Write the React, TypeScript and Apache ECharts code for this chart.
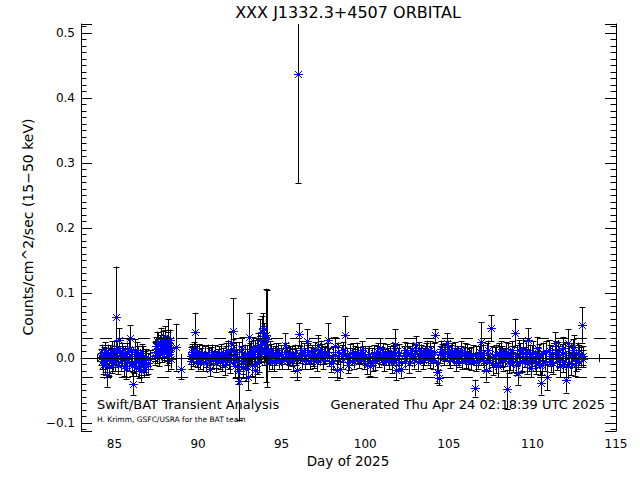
import React, { useEffect, useRef } from 'react';
import * as echarts from 'echarts';

const TITLE = 'XXX J1332.3+4507 ORBITAL';
const X_NAME = 'Day of 2025';
const Y_NAME = 'Counts/cm^2/sec (15\u221250 keV)';
const NOTE_LEFT = 'Swift/BAT Transient Analysis';
const NOTE_RIGHT = 'Generated Thu Apr 24 02:18:39 UTC 2025';
const NOTE_CREDIT = 'H. Krimm, GSFC/USRA for the BAT team';

const X_MIN = 83;
const X_MAX = 115;
const Y_MIN = -0.112;
const Y_MAX = 0.514;

const ZERO_LEVEL = 0;
const UPPER_LEVEL = 0.028;
const LOWER_LEVEL = -0.025;

const DAYS = [
  84.20, 84.28, 84.35, 84.42, 84.50, 84.54, 84.62, 84.70, 84.78, 84.85, 84.92, 85.00,
  85.09, 85.15, 85.22, 85.30, 85.36, 85.42, 85.50, 85.56, 85.62, 85.70, 85.78, 85.85,
  85.93, 86.00, 86.10, 86.16, 86.22, 86.30, 86.38, 86.45, 86.52, 86.60, 86.68, 86.75,
  86.82, 86.90, 87.00, 87.15, 87.40, 87.48, 87.55, 87.62, 87.70, 87.78, 87.85, 87.92,
  88.00, 88.06, 88.12, 88.18, 88.25, 88.32, 88.40, 88.70, 88.97, 89.55, 89.62, 89.70,
  89.80, 89.88, 89.95, 90.05, 90.12, 90.20, 90.30, 90.40, 90.50, 90.60, 90.70, 90.80,
  90.90, 91.00, 91.10, 91.20, 91.30, 91.40, 91.50, 91.60, 91.70, 91.80, 91.90, 92.00,
  92.07, 92.15, 92.22, 92.30, 92.38, 92.46, 92.55, 92.62, 92.70, 92.78, 92.85, 93.00,
  93.05, 93.12, 93.20, 93.28, 93.35, 93.42, 93.50, 93.58, 93.65, 93.72, 93.80, 93.88,
  93.95, 94.05, 94.10, 94.15, 94.25, 94.35, 94.45, 94.55, 94.65, 94.75, 94.85, 94.95,
  95.05, 95.20, 95.30, 95.40, 95.50, 95.60, 95.70, 95.80, 95.90, 96.00, 96.05, 96.12,
  96.22, 96.32, 96.42, 96.50, 96.60, 96.70, 96.80, 96.90, 97.00, 97.10, 97.20, 97.30,
  97.40, 97.50, 97.60, 97.76, 97.85, 97.95, 98.05, 98.20, 98.30, 98.40, 98.50, 98.60,
  98.70, 98.78, 98.90, 99.00, 99.10, 99.20, 99.30, 99.40, 99.50, 99.60, 99.70, 99.80,
  99.90, 100.00, 100.10, 100.20, 100.30, 100.40, 100.50, 100.60, 100.70, 100.80, 100.90, 101.00,
  101.10, 101.20, 101.30, 101.40, 101.50, 101.60, 101.70, 101.77, 101.85, 101.95, 102.05, 102.17,
  102.30, 102.40, 102.50, 102.60, 102.70, 102.80, 102.90, 103.06, 103.15, 103.25, 103.35, 103.45,
  103.55, 103.65, 103.75, 103.85, 103.95, 104.05, 104.16, 104.30, 104.40, 104.50, 104.60, 104.70,
  104.80, 104.90, 105.00, 105.10, 105.20, 105.30, 105.40, 105.50, 105.60, 105.70, 105.80, 105.90,
  106.00, 106.10, 106.20, 106.30, 106.45, 106.55, 106.65, 106.75, 106.85, 106.95, 107.05, 107.20,
  107.30, 107.40, 107.55, 107.65, 107.75, 107.85, 107.95, 108.05, 108.15, 108.25, 108.35, 108.46,
  108.55, 108.65, 108.75, 108.85, 108.94, 109.05, 109.12, 109.25, 109.35, 109.45, 109.55, 109.65,
  109.74, 109.85, 109.92, 110.05, 110.15, 110.25, 110.35, 110.45, 110.54, 110.65, 110.75, 110.90,
  111.00, 111.10, 111.20, 111.33, 111.45, 111.55, 111.65, 111.75, 111.85, 112.00, 112.10, 112.20,
  112.30, 112.40, 112.50, 112.62, 112.70, 112.80, 112.96, 113.00,
];

const RATES = [
  0.002, -0.004, 0.006, -0.008, 0.003, -0.026, 0.008, -0.003, 0.001, 0.010, -0.006, 0.004,
  0.064, 0.012, -0.010, 0.028, 0.005, -0.004, 0.007, -0.012, 0.002, -0.015, 0.009, -0.006,
  0.031, 0.003, -0.039, -0.008, 0.012, -0.005, 0.006, -0.016, 0.001, -0.012, 0.004, -0.016,
  -0.003, 0.002, -0.008, -0.002, 0.010, 0.018, 0.005, 0.024, 0.012, 0.030, 0.008, 0.021,
  0.026, 0.015, 0.004, 0.020, 0.010, 0.028, -0.002, 0.017, -0.016, 0.004, 0.010, 0.002,
  0.040, 0.006, -0.002, 0.008, -0.004, 0.003, -0.006, 0.005, -0.002, 0.007, -0.016, 0.004,
  -0.003, 0.006, -0.008, 0.002, -0.004, 0.008, 0.001, -0.010, 0.005, 0.012, -0.006, 0.023,
  0.042, 0.004, -0.012, 0.010, -0.020, -0.035, 0.002, 0.014, -0.008, 0.006, -0.016, -0.029,
  0.032, 0.008, -0.010, 0.015, 0.003, -0.018, 0.012, 0.020, -0.005, 0.030, 0.040, 0.047,
  0.010, 0.035, 0.030, 0.012, -0.004, 0.008, 0.002, -0.006, 0.010, 0.004, -0.002, 0.007,
  0.003, 0.020, 0.004, -0.003, 0.006, 0.001, -0.005, 0.008, -0.018, 0.437, 0.037, 0.005,
  -0.002, 0.010, 0.003, 0.027, 0.006, -0.004, 0.008, 0.002, 0.012, -0.006, 0.020, 0.004,
  0.010, -0.003, 0.006, 0.028, 0.002, -0.008, 0.005, 0.018, -0.018, 0.004, -0.016, 0.007,
  -0.002, 0.035, 0.003, -0.006, 0.008, 0.002, -0.004, 0.006, 0.010, -0.003, 0.004, 0.012,
  -0.005, 0.003, -0.010, 0.006, -0.012, 0.002, 0.008, -0.004, 0.005, -0.002, 0.015, 0.004,
  -0.006, 0.002, 0.009, -0.003, 0.006, -0.008, 0.004, 0.021, -0.018, 0.003, 0.008, -0.016,
  0.005, -0.004, 0.010, -0.008, 0.003, 0.012, -0.002, 0.020, -0.006, 0.004, 0.008, -0.003,
  0.006, 0.010, 0.002, 0.012, 0.005, -0.004, 0.035, -0.022, -0.030, 0.006, 0.010, 0.003,
  0.008, 0.023, 0.004, -0.003, 0.010, 0.002, -0.006, 0.007, 0.000, 0.012, -0.004, 0.005,
  -0.002, 0.008, 0.003, -0.005, 0.006, -0.046, 0.004, -0.003, 0.010, 0.025, 0.005, -0.018,
  0.008, -0.006, 0.046, -0.010, 0.003, 0.006, -0.012, 0.004, 0.010, -0.004, 0.002, -0.048,
  0.008, -0.002, 0.012, -0.006, 0.039, 0.004, -0.023, 0.008, -0.004, 0.014, 0.002, -0.008,
  0.028, 0.006, -0.015, 0.010, -0.004, 0.016, 0.002, -0.010, -0.038, 0.008, -0.004, -0.029,
  0.012, -0.006, 0.004, 0.023, -0.002, 0.010, -0.012, 0.006, 0.015, -0.033, 0.023, 0.002,
  -0.008, 0.012, 0.017, -0.004, -0.002, 0.005, 0.051, -0.001,
];

const ERRORS = [
  0.012, 0.013, 0.011, 0.014, 0.012, 0.018, 0.013, 0.012, 0.015, 0.016, 0.013, 0.014,
  0.077, 0.016, 0.014, 0.018, 0.013, 0.015, 0.012, 0.016, 0.014, 0.017, 0.015, 0.013,
  0.020, 0.014, 0.018, 0.015, 0.017, 0.014, 0.013, 0.015, 0.012, 0.014, 0.015, 0.013,
  0.014, 0.012, 0.016, 0.014, 0.015, 0.014, 0.013, 0.016, 0.012, 0.017, 0.014, 0.015,
  0.018, 0.013, 0.014, 0.040, 0.015, 0.016, 0.014, 0.036, 0.016, 0.013, 0.012, 0.014,
  0.030, 0.013, 0.012, 0.014, 0.013, 0.012, 0.014, 0.013, 0.012, 0.014, 0.012, 0.013,
  0.012, 0.014, 0.013, 0.012, 0.013, 0.014, 0.015, 0.016, 0.014, 0.015, 0.017, 0.018,
  0.050, 0.016, 0.018, 0.015, 0.020, 0.060, 0.016, 0.018, 0.017, 0.015, 0.019, 0.020,
  0.038, 0.016, 0.018, 0.017, 0.015, 0.020, 0.016, 0.018, 0.017, 0.030, 0.025, 0.022,
  0.020, 0.072, 0.075, 0.018, 0.015, 0.014, 0.013, 0.014, 0.013, 0.012, 0.014, 0.013,
  0.012, 0.018, 0.013, 0.014, 0.012, 0.013, 0.014, 0.013, 0.016, 0.168, 0.017, 0.013,
  0.014, 0.013, 0.012, 0.018, 0.014, 0.013, 0.012, 0.014, 0.013, 0.014, 0.015, 0.013,
  0.012, 0.014, 0.013, 0.026, 0.014, 0.013, 0.012, 0.014, 0.015, 0.013, 0.014, 0.013,
  0.014, 0.030, 0.013, 0.012, 0.014, 0.013, 0.012, 0.013, 0.014, 0.012, 0.013, 0.014,
  0.012, 0.013, 0.014, 0.013, 0.015, 0.013, 0.012, 0.014, 0.013, 0.012, 0.016, 0.013,
  0.014, 0.012, 0.013, 0.014, 0.012, 0.015, 0.014, 0.024, 0.016, 0.013, 0.014, 0.014,
  0.013, 0.012, 0.014, 0.015, 0.013, 0.012, 0.014, 0.014, 0.013, 0.012, 0.013, 0.014,
  0.012, 0.013, 0.012, 0.014, 0.013, 0.012, 0.010, 0.016, 0.012, 0.013, 0.012, 0.014,
  0.013, 0.015, 0.014, 0.012, 0.014, 0.013, 0.014, 0.012, 0.013, 0.014, 0.013, 0.012,
  0.013, 0.014, 0.012, 0.013, 0.014, 0.013, 0.014, 0.013, 0.015, 0.030, 0.016, 0.018,
  0.015, 0.014, 0.020, 0.016, 0.014, 0.015, 0.017, 0.014, 0.016, 0.015, 0.014, 0.030,
  0.015, 0.016, 0.014, 0.015, 0.022, 0.016, 0.018, 0.015, 0.016, 0.017, 0.015, 0.016,
  0.018, 0.015, 0.014, 0.016, 0.015, 0.017, 0.015, 0.016, 0.018, 0.016, 0.015, 0.020,
  0.016, 0.015, 0.014, 0.017, 0.016, 0.015, 0.017, 0.016, 0.018, 0.020, 0.022, 0.016,
  0.018, 0.017, 0.018, 0.016, 0.015, 0.016, 0.027, 0.013,
];

// Additional orbit points inside the dense band
const BAND_DAYS = [
  84.24, 84.32, 84.46, 84.58, 84.66, 84.74, 84.88, 84.96, 85.05, 85.26, 85.46, 85.66,
  85.74, 85.89, 86.05, 86.26, 86.34, 86.42, 86.56, 86.64, 86.72, 86.86, 87.44, 87.52,
  87.58, 87.66, 87.74, 87.82, 87.88, 87.96, 88.03, 88.09, 88.15, 88.22, 88.28, 88.36,
  89.58, 89.66, 89.75, 89.92, 90.00, 90.25, 90.45, 90.65, 90.85, 91.05, 91.25, 91.45,
  91.65, 91.85, 92.10, 92.34, 92.66, 92.92, 93.16, 93.38, 93.54, 93.68, 93.76, 93.84,
  93.92, 94.00, 94.20, 94.30, 94.40, 94.60, 94.80, 95.00, 95.25, 95.45, 95.65, 95.85,
  96.17, 96.37, 96.55, 96.75, 96.95, 97.15, 97.35, 97.55, 97.70, 98.10, 98.35, 98.65,
  98.95, 99.25, 99.55, 99.85, 100.15, 100.45, 100.75, 101.05, 101.35, 101.65, 102.00, 102.35,
  102.65, 102.95, 103.20, 103.50, 103.70, 103.90, 104.10, 104.35, 104.55, 104.75, 104.95, 105.15,
  105.35, 105.55, 105.75, 105.95, 106.15, 106.35, 106.60, 106.80, 107.10, 107.35, 107.60, 107.80,
  108.00, 108.20, 108.40, 108.60, 108.80, 109.00, 109.20, 109.40, 109.60, 109.80, 110.00, 110.20,
  110.40, 110.60, 110.80, 111.05, 111.25, 111.40, 111.60, 111.80, 111.95, 112.15, 112.35, 112.55,
  112.75, 112.88, 113.05,
];

const BAND_RATES = [
  0.008, -0.010, 0.012, -0.002, -0.012, 0.006, -0.010, 0.012, -0.006, 0.016, 0.010, 0.006,
  -0.004, 0.014, -0.012, -0.014, 0.010, -0.006, -0.020, 0.008, -0.008, -0.012, 0.004, 0.026,
  0.014, 0.002, 0.020, 0.016, 0.026, 0.010, 0.032, 0.020, 0.010, 0.024, 0.006, 0.016,
  -0.004, 0.006, 0.012, 0.010, -0.006, 0.008, -0.008, 0.002, 0.009, -0.002, 0.006, -0.006,
  0.010, -0.002, 0.014, -0.004, -0.014, 0.004, 0.010, 0.012, -0.008, 0.016, 0.010, 0.022,
  0.034, 0.020, 0.006, 0.012, -0.004, 0.004, 0.010, -0.004, 0.010, 0.002, 0.006, 0.002,
  0.012, -0.004, 0.010, 0.004, -0.002, 0.008, 0.014, 0.004, 0.010, -0.004, 0.010, 0.012,
  -0.010, 0.010, 0.004, 0.006, 0.002, -0.006, 0.010, 0.010, 0.002, 0.010, -0.006, 0.012,
  0.006, 0.008, 0.012, 0.002, 0.014, -0.002, 0.010, -0.008, 0.014, 0.010, 0.014, 0.008,
  0.012, 0.003, 0.006, 0.010, -0.004, 0.004, -0.006, 0.004, -0.004, 0.012, 0.002, -0.008,
  0.008, 0.002, 0.010, -0.008, 0.004, -0.010, 0.012, -0.006, 0.010, -0.004, 0.004, -0.008,
  0.006, -0.010, 0.010, 0.004, -0.008, 0.010, 0.002, -0.006, 0.008, -0.012, 0.004, -0.010,
  0.008, 0.002, 0.004,
];

const BAND_ERRORS = [
  0.013, 0.014, 0.013, 0.012, 0.015, 0.014, 0.013, 0.015, 0.014, 0.015, 0.014, 0.013,
  0.014, 0.016, 0.015, 0.014, 0.015, 0.013, 0.016, 0.014, 0.013, 0.014, 0.014, 0.015,
  0.013, 0.014, 0.015, 0.014, 0.016, 0.013, 0.017, 0.014, 0.015, 0.016, 0.014, 0.015,
  0.013, 0.012, 0.013, 0.012, 0.013, 0.013, 0.012, 0.013, 0.012, 0.013, 0.012, 0.014,
  0.014, 0.015, 0.016, 0.016, 0.017, 0.016, 0.017, 0.016, 0.017, 0.018, 0.016, 0.018,
  0.020, 0.018, 0.015, 0.014, 0.013, 0.014, 0.013, 0.013, 0.014, 0.013, 0.013, 0.013,
  0.014, 0.013, 0.013, 0.013, 0.013, 0.013, 0.013, 0.013, 0.014, 0.013, 0.014, 0.013,
  0.013, 0.013, 0.013, 0.013, 0.014, 0.013, 0.013, 0.013, 0.013, 0.014, 0.014, 0.013,
  0.013, 0.014, 0.013, 0.013, 0.013, 0.013, 0.013, 0.014, 0.013, 0.013, 0.013, 0.013,
  0.013, 0.013, 0.013, 0.013, 0.013, 0.013, 0.014, 0.014, 0.016, 0.015, 0.016, 0.015,
  0.015, 0.016, 0.015, 0.015, 0.015, 0.016, 0.016, 0.016, 0.016, 0.016, 0.016, 0.016,
  0.016, 0.016, 0.016, 0.016, 0.016, 0.016, 0.016, 0.016, 0.017, 0.017, 0.017, 0.017,
  0.016, 0.015, 0.014,
];

const FONT = "'DejaVu Sans', sans-serif";
const STAR_COLOR = '#0000ff';

const px = (v: number) => Math.round(v) + 0.5;

export default function App() {
  const ref = useRef<HTMLDivElement>(null);

  useEffect(() => {
    if (!ref.current) return;
    const chart = echarts.init(ref.current, undefined, { renderer: 'svg' });
    const points = DAYS.map((d, i) => [d, RATES[i], ERRORS[i]])
      .concat(BAND_DAYS.map((d, i) => [d, BAND_RATES[i], BAND_ERRORS[i]]))
      .sort((a, b) => a[0] - b[0]);

    const renderBars = (params: any, api: any) => {
      const x = api.value(0);
      const y = api.value(1);
      const e = api.value(2);
      const c = api.coord([x, y]);
      const top = api.coord([x, y + e]);
      const bot = api.coord([x, y - e]);
      const cs = params.coordSys;
      const yTop = cs.y;
      const yBot = cs.y + cs.height;
      const clampY = (v: number) => Math.max(yTop, Math.min(yBot, v));
      const cx = px(c[0]);
      const barStyle = { stroke: '#000', lineWidth: 1, fill: 'none' };
      const children: any[] = [
        { type: 'line', shape: { x1: cx, y1: clampY(top[1]), x2: cx, y2: clampY(bot[1]) }, style: barStyle },
      ];
      const cap = 3;
      if (top[1] >= yTop) {
        children.push({ type: 'line', shape: { x1: cx - cap, y1: px(top[1]), x2: cx + cap, y2: px(top[1]) }, style: barStyle });
      }
      if (bot[1] <= yBot) {
        children.push({ type: 'line', shape: { x1: cx - cap, y1: px(bot[1]), x2: cx + cap, y2: px(bot[1]) }, style: barStyle });
      }
      return { type: 'group', children };
    };

    const renderStars = (params: any, api: any) => {
      const c = api.coord([api.value(0), api.value(1)]);
      const cx = px(c[0]);
      const cy = px(c[1]);
      const starStyle = { stroke: STAR_COLOR, lineWidth: 1, fill: 'none' };
      const r = 4.5;
      const d = 3.5;
      return {
        type: 'group',
        children: [
          { type: 'line', shape: { x1: cx - r, y1: cy, x2: cx + r, y2: cy }, style: starStyle },
          { type: 'line', shape: { x1: cx, y1: cy - r, x2: cx, y2: cy + r }, style: starStyle },
          { type: 'line', shape: { x1: cx - d, y1: cy - d, x2: cx + d, y2: cy + d }, style: starStyle },
          { type: 'line', shape: { x1: cx - d, y1: cy + d, x2: cx + d, y2: cy - d }, style: starStyle },
        ],
      };
    };

    const axisLineStyle = { show: true, lineStyle: { color: '#000', width: 1 } };
    const xCommon = {
      type: 'value',
      min: X_MIN,
      max: X_MAX,
      splitNumber: 6,
      splitLine: { show: false },
      axisLine: axisLineStyle,
      axisTick: { show: true, inside: true, length: 8, lineStyle: { color: '#000', width: 1 } },
      minorTick: { show: true, splitNumber: 5, length: 4, lineStyle: { color: '#000', width: 1 } },
      minorSplitLine: { show: false },
    };
    const yCommon = {
      type: 'value',
      min: Y_MIN,
      max: Y_MAX,
      splitNumber: 6,
      splitLine: { show: false },
      axisLine: axisLineStyle,
      axisTick: { show: true, inside: true, length: 11, lineStyle: { color: '#000', width: 1 } },
      minorTick: { show: true, splitNumber: 10, length: 5.5, lineStyle: { color: '#000', width: 1 } },
      minorSplitLine: { show: false },
    };

    const textStyle = (size: number) => ({ fill: '#000', font: `${size}px ${FONT}` });

    chart.setOption({
      animation: false,
      backgroundColor: '#fff',
      grid: { left: 81, right: 24, top: 24, bottom: 49, show: false },
      xAxis: [
        {
          ...xCommon,
          position: 'bottom',
          axisLabel: {
            show: true,
            margin: 7,
            color: '#000',
            fontSize: 12,
            fontFamily: FONT,
            showMinLabel: false,
            showMaxLabel: true,
            formatter: (v: number) => String(Math.round(v)),
          },
        },
        { ...xCommon, position: 'top', axisLabel: { show: false } },
      ],
      yAxis: [
        {
          ...yCommon,
          position: 'left',
          axisLabel: {
            show: true,
            margin: 6,
            color: '#000',
            fontSize: 12,
            fontFamily: FONT,
            showMinLabel: false,
            showMaxLabel: false,
            formatter: (v: number) => v.toFixed(1).replace('-', '\u2212'),
          },
        },
        { ...yCommon, position: 'right', axisLabel: { show: false } },
      ],
      series: [
        {
          type: 'custom',
          name: 'errors',
          xAxisIndex: 0,
          yAxisIndex: 0,
          renderItem: renderBars,
          data: points,
          silent: true,
          z: 2,
        },
        {
          type: 'custom',
          name: 'rate',
          xAxisIndex: 0,
          yAxisIndex: 0,
          renderItem: renderStars,
          data: points,
          silent: true,
          z: 3,
          markLine: {
            silent: true,
            symbol: 'none',
            label: { show: false },
            z: 10,
            data: [
              { yAxis: ZERO_LEVEL, lineStyle: { color: '#000', width: 1, type: 'solid' } },
              { yAxis: UPPER_LEVEL, lineStyle: { color: '#000', width: 1, type: [12, 7] } },
              { yAxis: LOWER_LEVEL, lineStyle: { color: '#000', width: 1, type: [12, 7] } },
            ],
          },
        },
      ],
      graphic: [
        { type: 'text', style: { ...textStyle(16), text: TITLE, x: 348, y: 12, textAlign: 'center', textVerticalAlign: 'middle' } },
        { type: 'text', style: { ...textStyle(13.5), text: X_NAME, x: 348, y: 461, textAlign: 'center', textVerticalAlign: 'middle' } },
        { type: 'text', x: 28, y: 227, rotation: Math.PI / 2, style: { ...textStyle(14), text: Y_NAME, x: 0, y: 0, textAlign: 'center', textVerticalAlign: 'middle' } },
        { type: 'text', style: { ...textStyle(13), text: NOTE_LEFT, x: 97, y: 404, textAlign: 'left', textVerticalAlign: 'middle' } },
        { type: 'text', style: { ...textStyle(13), text: NOTE_RIGHT, x: 605, y: 404, textAlign: 'right', textVerticalAlign: 'middle' } },
        { type: 'text', style: { ...textStyle(7.5), text: NOTE_CREDIT, x: 97, y: 419, textAlign: 'left', textVerticalAlign: 'middle' } },
      ],
    });

    return () => chart.dispose();
  }, []);

  return (
    <div
      ref={ref}
      style={{ position: 'absolute', left: 0, top: 0, width: 640, height: 480, background: '#fff' }}
    />
  );
}
